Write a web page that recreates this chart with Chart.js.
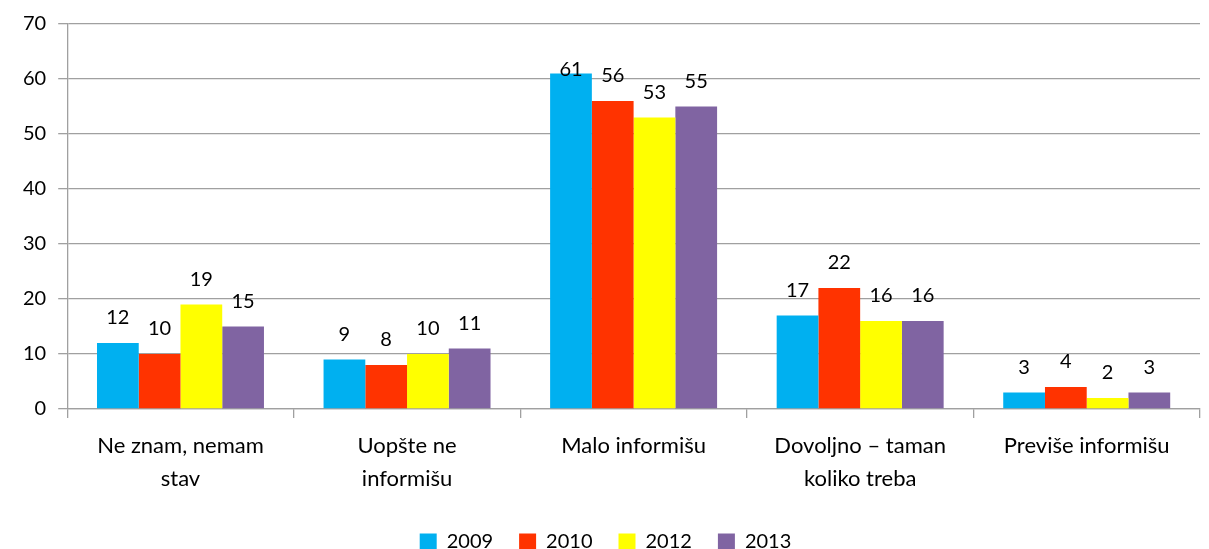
<!DOCTYPE html>
<html><head><meta charset="utf-8">
<script src="https://cdn.jsdelivr.net/npm/chart.js@4/dist/chart.umd.min.js"></script>
<style>html,body{margin:0;padding:0;background:#fff}#wrap{width:1209px;height:549px}</style>
</head><body><div id="wrap"><canvas id="c"></canvas></div>
<script>
const categories = [["Ne znam, nemam","stav"], ["Uopšte ne","informišu"], "Malo informišu", ["Dovoljno – taman","koliko treba"], "Previše informišu"];
const years = ["2009","2010","2012","2013"];
const v2009 = [12, 9, 61, 17, 3];
const v2010 = [10, 8, 56, 22, 4];
const v2012 = [19, 10, 53, 16, 2];
const v2013 = [15, 11, 55, 16, 3];
const colors = ["#00B0F0", "#FF3300", "#FFFF00", "#8064A2"];
const FONT = "Lato";

const labelPlugin = {
  id: 'vals',
  afterDatasetsDraw(chart) {
    const ctx = chart.ctx;
    ctx.save();
    ctx.font = "20px " + FONT;
    ctx.fillStyle = "#000";
    ctx.textAlign = "center";
    ctx.textBaseline = "middle";
    chart.data.datasets.forEach((ds, i) => {
      const meta = chart.getDatasetMeta(i);
      meta.data.forEach((bar, j) => {
        let y = bar.y - 25;
        y = Math.max(y, chart.chartArea.top + 46);
        ctx.fillText(String(ds.data[j]), bar.x, y);
      });
    });
    ctx.restore();
  }
};

new Chart(document.getElementById('c'), {
  type: 'bar',
  data: {
    labels: categories,
    datasets: [v2009, v2010, v2012, v2013].map((d, i) => ({
      label: years[i], data: d, backgroundColor: colors[i],
      barPercentage: 1, categoryPercentage: 0.737
    }))
  },
  options: {
    responsive: true, maintainAspectRatio: false, animation: false,
    layout: { padding: { top: 8, right: 9, left: 11, bottom: -13 } },
    plugins: {
      legend: {
        position: 'bottom',
        labels: { font: { family: FONT, size: 20 }, color: '#000', boxWidth: 17, boxHeight: 17, padding: 26 }
      },
      tooltip: { enabled: false }
    },
    scales: {
      y: {
        min: 0, max: 70,
        ticks: { stepSize: 10, font: { family: FONT, size: 20 }, color: '#000', padding: 12 },
        grid: { color: '#A0A0A0', lineWidth: 1.3, tickLength: 9 },
        border: { color: '#A0A0A0', width: 1.3 }
      },
      x: {
        ticks: { font: { family: FONT, size: 22, lineHeight: 1.5 }, color: '#000', padding: 11, maxRotation: 0 },
        grid: { drawOnChartArea: false, color: '#A0A0A0', lineWidth: 1.3, tickLength: 9, offset: true },
        border: { color: '#A0A0A0', width: 1.3 }
      }
    }
  },
  plugins: [labelPlugin]
});
</script></body></html>
